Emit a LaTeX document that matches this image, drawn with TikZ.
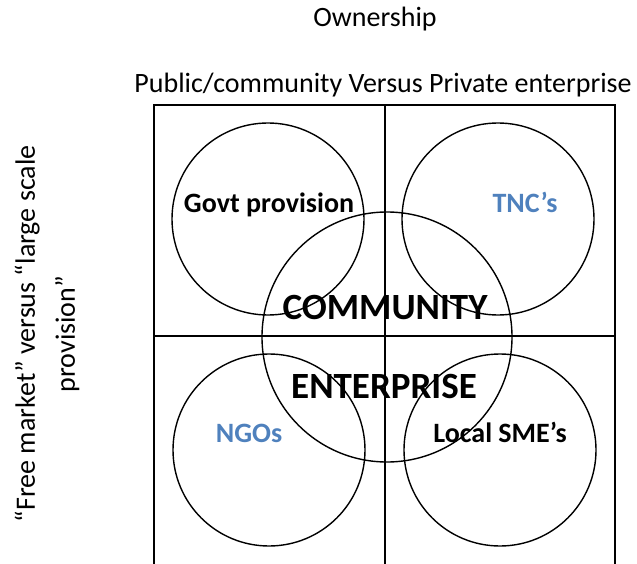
\documentclass[tikz,border=0pt]{standalone}
\usepackage{fontspec}
\setmainfont{Carlito}
\definecolor{accentblue}{RGB}{79,129,189}
\begin{document}
\begin{tikzpicture}[x=1pt,y=-1pt,
  grid/.style={line width=2.2pt},
  ring/.style={draw,circle,line width=1.4pt,inner sep=0pt},
  lbl/.style={font=\fontsize{28}{34}\selectfont,anchor=base,inner sep=0pt},
  tag/.style={font=\bfseries\fontsize{28}{34}\selectfont,anchor=base,inner sep=0pt},
  big/.style={font=\bfseries\fontsize{37}{44}\selectfont,anchor=base,inner sep=0pt}]
\useasboundingbox (0,0) rectangle (637,564);
\begin{scope}
\clip (0,0) rectangle (637,564);
% quadrant frame, open at the bottom
\draw[grid] (154,580) -- (154,105) -- (615,105) -- (615,580);
\draw[grid] (385,105) -- (385,580);
\draw[grid] (154,336) -- (615,336);
% circles
\node[ring,minimum size=192pt] (govt) at (268,219) {};
\node[ring,minimum size=192pt] (tnc) at (498,219) {};
\node[ring,minimum size=192pt] (ngo) at (269,450) {};
\node[ring,minimum size=192pt] (sme) at (500,450) {};
\node[ring,minimum size=250pt] (ce) at (387,337) {};
\end{scope}
% headings
\node[lbl] (own) at (375,27) {Ownership};
\node[lbl] (axis) at (383,93) {Public/community Versus Private enterprise};
\node[font=\fontsize{28}{40}\selectfont,align=center,rotate=90,inner sep=0pt] (side) at (47,334)
  {“Free market” versus “large scale\\provision”};
% labels
\node[tag] (tgovt) at (269,212) {Govt provision};
\node[tag,text=accentblue] (ttnc) at (525,212) {TNC’s};
\node[big] (tcom) at (385,319) {COMMUNITY};
\node[big] (tent) at (384,398) {ENTERPRISE};
\node[tag,text=accentblue] (tngo) at (249,442) {NGOs};
\node[tag] (tsme) at (500,442) {Local SME’s};
\end{tikzpicture}
\end{document}
